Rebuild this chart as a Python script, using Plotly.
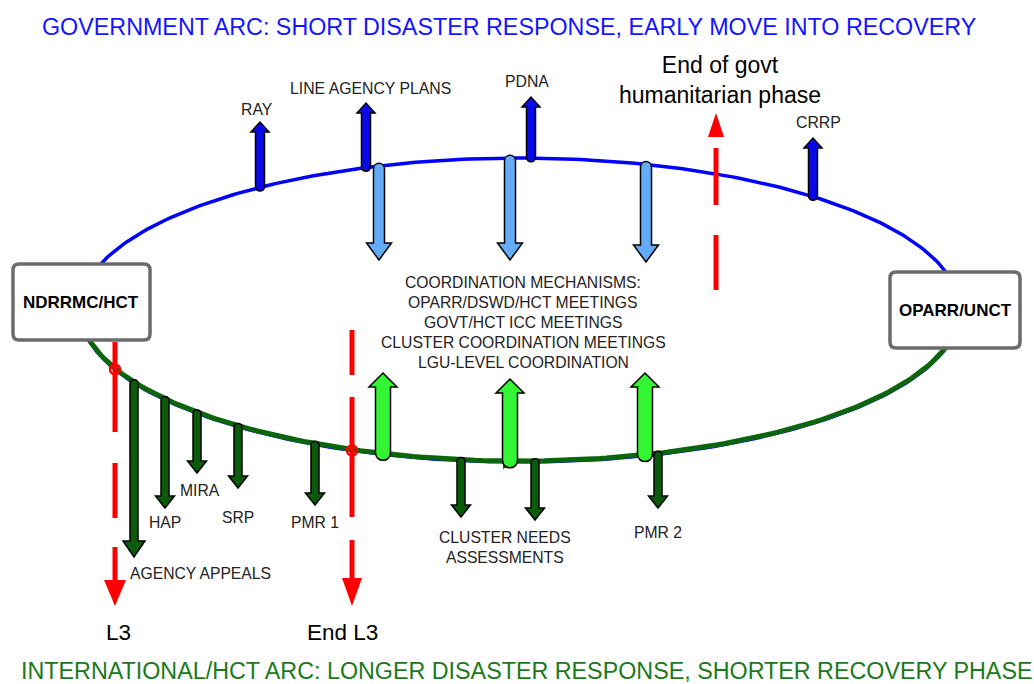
import numpy as np
import plotly.graph_objects as go

# ---------------- data ----------------
title_top = "GOVERNMENT ARC: SHORT DISASTER RESPONSE, EARLY MOVE INTO RECOVERY"
title_bottom = "INTERNATIONAL/HCT ARC: LONGER DISASTER RESPONSE, SHORTER RECOVERY PHASE"
box_labels = ["NDRRMC/HCT", "OPARR/UNCT"]

gov_labels = ["RAY", "LINE AGENCY PLANS", "PDNA", "CRRP"]
gov_x = [260, 366, 531, 813]
gov_tip = [122, 103, 97, 138]
gov_label_pos = [(257, 109), (370, 88), (527, 81), (818, 122)]

coord_lines = ["COORDINATION MECHANISMS:", "OPARR/DSWD/HCT MEETINGS",
               "GOVT/HCT ICC MEETINGS", "CLUSTER COORDINATION MEETINGS",
               "LGU-LEVEL COORDINATION"]
coord_down_x = [379, 510, 646]
coord_down_tip = [260, 260, 262]
coord_up_x = [383, 510, 645]
coord_up_tip = [373, 379, 373]

intl_labels = ["AGENCY APPEALS", "HAP", "MIRA", "SRP", "PMR 1", "", "", "PMR 2"]
intl_x = [134, 165, 197, 238, 315, 461, 535, 658]
intl_tip = [557, 508, 473, 488, 505, 517, 520, 508]
intl_label_pos = [(200, 573), (165, 522), (200, 490), (238, 517), (315, 522),
                  None, None, (658, 532)]
cluster_label = "CLUSTER NEEDS<br>ASSESSMENTS"

phase_labels = ["L3", "End L3", "End of govt<br>humanitarian phase"]

# ---------------- geometry ----------------
W, H = 1034, 684
CX, CY, RX, RY = 520, 310, 440, 152
FONT = "Liberation Sans, Arial, sans-serif"


def ell_top(x):
    return CY - RY * np.sqrt(max(0.0, 1 - ((x - CX) / RX) ** 2))


def ell_bot(x):
    return CY + RY * np.sqrt(max(0.0, 1 - ((x - CX) / RX) ** 2))


def arrow_path(x, y0, y1, sw, hw, hl):
    d = 1 if y1 > y0 else -1
    yh = y1 - d * hl
    b = sw * 0.7
    return (f"M {x - sw/2},{yh} L {x - hw/2},{yh} L {x},{y1} L {x + hw/2},{yh} "
            f"L {x + sw/2},{yh} L {x + sw/2},{y0} "
            f"C {x + sw/2},{y0 - d*b} {x - sw/2},{y0 - d*b} {x - sw/2},{y0} Z")


def rrect(x0, y0, x1, y1, r):
    return (f"M {x0 + r},{y0} L {x1 - r},{y0} Q {x1},{y0} {x1},{y0 + r} "
            f"L {x1},{y1 - r} Q {x1},{y1} {x1 - r},{y1} L {x0 + r},{y1} "
            f"Q {x0},{y1} {x0},{y1 - r} L {x0},{y0 + r} Q {x0},{y0} {x0 + r},{y0} Z")


fig = go.Figure()

t_all = np.linspace(0, 2 * np.pi, 400)
fig.add_trace(go.Scatter(x=CX + RX * np.cos(t_all), y=CY + RY * np.sin(t_all), mode="lines",
                         line=dict(color="#0000ff", width=3.5), hoverinfo="skip"))
t2 = np.linspace(0, np.pi, 200)
fig.add_trace(go.Scatter(x=CX + RX * np.cos(t2), y=CY - 1 + RY * np.sin(t2), mode="lines",
                         line=dict(color="#0b650b", width=5), hoverinfo="skip"))

shapes = []
# small direction mark on green arc
shapes.append(dict(type="path", path="M 503,459 L 519,461 L 503,469 Z",
                   fillcolor="#0b650b", line=dict(width=0)))

# government arrows (dark blue, up)
for x, tip in zip(gov_x, gov_tip):
    shapes.append(dict(type="path", path=arrow_path(x, ell_top(x) - 1, tip, 9, 18, 10),
                       fillcolor="#0a0ae8", line=dict(color="black", width=1.5)))
# light blue down arrows
for x, tip in zip(coord_down_x, coord_down_tip):
    shapes.append(dict(type="path", path=arrow_path(x, ell_top(x) + 3, tip, 11, 25, 17),
                       fillcolor="#63acf7", line=dict(color="black", width=1.5)))
# light green up arrows
for x, tip in zip(coord_up_x, coord_up_tip):
    shapes.append(dict(type="path", path=arrow_path(x, ell_bot(x) - 2, tip, 15, 28, 14),
                       fillcolor="#33f533", line=dict(color="black", width=1.5)))
# international arrows (dark green, down)
for i, (x, tip) in enumerate(zip(intl_x, intl_tip)):
    hw, hl = (22, 16) if i == 0 else (19, 12)
    shapes.append(dict(type="path", path=arrow_path(x, ell_bot(x) + 1, tip, 8, hw, hl),
                       fillcolor="#0a5c0a", line=dict(color="black", width=1.5)))

# boxes
shapes.append(dict(type="path", path=rrect(13, 264, 150, 340, 6), fillcolor="white",
                   line=dict(color="#6b6b6b", width=3.5)))
shapes.append(dict(type="path", path=rrect(890, 272, 1020, 348, 6), fillcolor="white",
                   line=dict(color="#6b6b6b", width=3.5)))

RED = "#ff0000"
red_dashes = [
    (115, [(342, 432), (463, 518), (547, 585)]),
    (352, [(330, 375), (397, 517), (540, 582)]),
    (716, [(148, 205), (235, 290)]),
]
for x, segs in red_dashes:
    for a, b in segs:
        shapes.append(dict(type="line", x0=x, x1=x, y0=a, y1=b, line=dict(color=RED, width=5)))
# red arrowheads
shapes.append(dict(type="path", path="M 104,580 L 126,580 L 115,606 Z", fillcolor=RED, line=dict(width=0)))
shapes.append(dict(type="path", path="M 342,578 L 362,578 L 352,606 Z", fillcolor=RED, line=dict(width=0)))
shapes.append(dict(type="path", path="M 708,137 L 724,137 L 716,113 Z", fillcolor=RED, line=dict(width=0)))
# red markers on intersections
for x in [115, 352]:
    y = ell_bot(x)
    shapes.append(dict(type="circle", x0=x - 5, x1=x + 5, y0=y - 5, y1=y + 5,
                       line=dict(color=RED, width=2.5), fillcolor="rgba(0,0,0,0)"))

ann = []


def txt(x, y, s, size=15.7, color="#222222", bold=False):
    ann.append(dict(x=x, y=y, text=f"<b>{s}</b>" if bold else s, showarrow=False,
                    xanchor="center", yanchor="middle",
                    font=dict(family=FONT, size=size, color=color)))


txt(509, 27, title_top, size=23.3, color="#1414ff")
txt(526, 671, title_bottom, size=23.3, color="#1a7a1a")
txt(81, 302, box_labels[0], size=17, color="black", bold=True)
txt(955, 310, box_labels[1], size=17, color="black", bold=True)

for lab, pos in zip(gov_labels, gov_label_pos):
    txt(pos[0], pos[1], lab, size=15.8)
for i, line in enumerate(coord_lines):
    txt(523, 282 + 20 * i, line, size=15.7)
for lab, pos in zip(intl_labels, intl_label_pos):
    if pos:
        txt(pos[0], pos[1], lab, size=15.7)
ann.append(dict(x=505, y=547, text=cluster_label, showarrow=False, xanchor="center",
                yanchor="middle", font=dict(family=FONT, size=15.7, color="#222222")))

txt(118, 632, phase_labels[0], size=22.5, color="black")
txt(342, 632, phase_labels[1], size=22.5, color="black")
ann.append(dict(x=720, y=80, text=phase_labels[2], showarrow=False, xanchor="center",
                yanchor="middle", font=dict(family=FONT, size=23, color="black")))

fig.update_layout(
    width=W, height=H, margin=dict(l=0, r=0, t=0, b=0),
    paper_bgcolor="white", plot_bgcolor="white", showlegend=False,
    xaxis=dict(range=[0, W], visible=False, fixedrange=True),
    yaxis=dict(range=[H, 0], visible=False, fixedrange=True),
    shapes=shapes, annotations=ann,
)
fig.write_html("out.html", config={"displayModeBar": False},
               post_script="document.body.style.margin='0';document.body.style.overflow='hidden';")
